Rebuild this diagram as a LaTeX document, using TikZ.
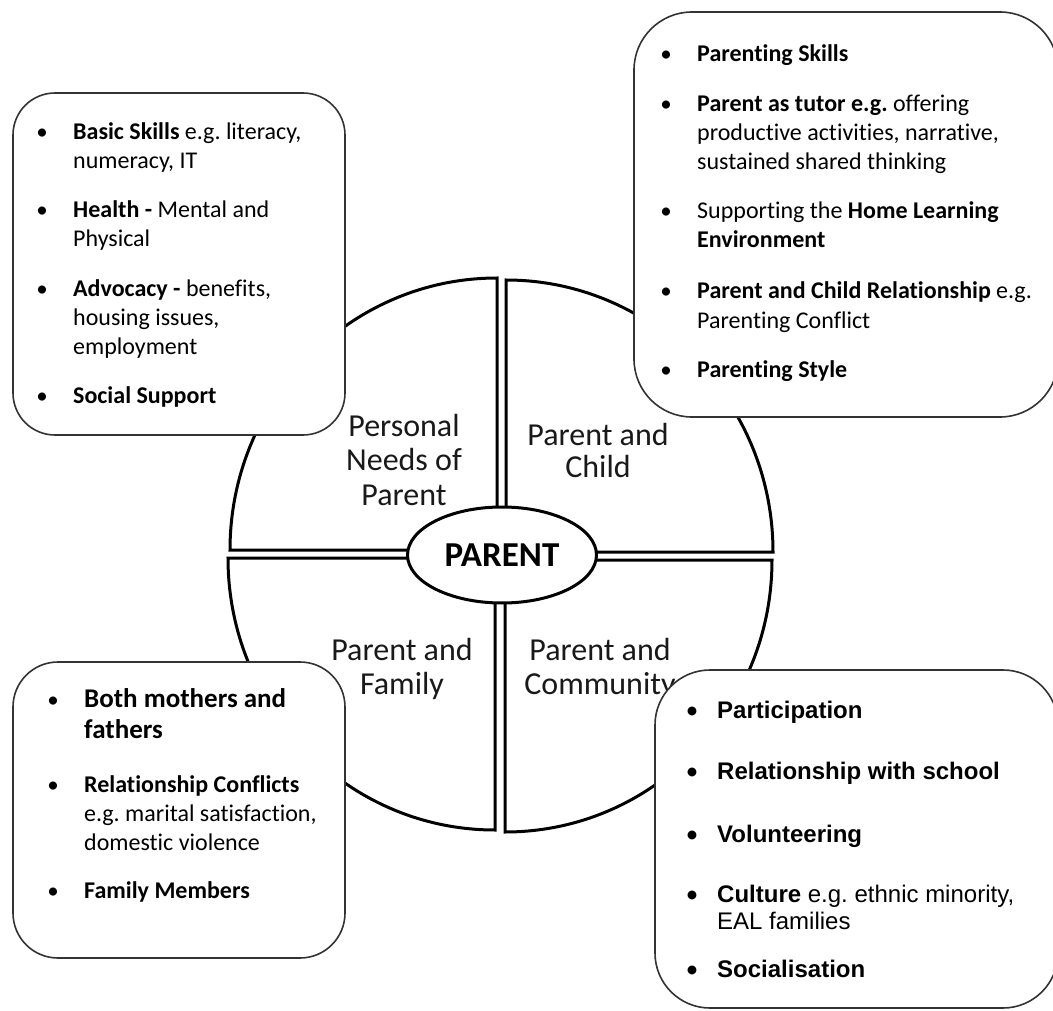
\documentclass[tikz,border=0pt]{standalone}
\usepackage{fontspec}
\setmainfont{Carlito}[Ligatures=NoCommon]
\newfontfamily\arialfont{Liberation Sans}
\usetikzlibrary{shapes.geometric}
\frenchspacing

\begin{document}
\begin{tikzpicture}[x=1pt, y=-1pt,
    sector/.style={draw, line width=3pt, fill=white},
    infobox/.style={draw=black!80, line width=1.6pt, fill=white},
    quad/.style={anchor=base, inner sep=0pt, text=black!90, font=\fontsize{32}{33}\selectfont},
    line/.style={anchor=base west, inner sep=0pt, font=\fontsize{24}{29}\selectfont},
    bul/.style={anchor=base, inner sep=0pt, font=\fontsize{23}{29}\selectfont},
    arialline/.style={line, font=\arialfont\fontsize{24}{29}\selectfont},
    arialbul/.style={bul, font=\fontsize{25}{29}\selectfont},
  ]
  \useasboundingbox (0,0) rectangle (1053,1011);

  % the four quarters of the circle
  \def\rx{267} \def\ry{272}
  \draw[sector] (497,550) -- ++(-\rx,0) arc[start angle=180, end angle=270, x radius=\rx, y radius=\ry] -- cycle;
  \draw[sector] (506,552) -- ++(\rx,0) arc[start angle=0, end angle=-90, x radius=\rx, y radius=\ry] -- cycle;
  \draw[sector] (495,558) -- ++(-\rx,0) arc[start angle=180, end angle=90, x radius=\rx, y radius=\ry] -- cycle;
  \draw[sector] (505,560) -- ++(\rx,0) arc[start angle=0, end angle=90, x radius=\rx, y radius=\ry] -- cycle;

  \node[draw, ellipse, line width=3pt, fill=white, minimum width=189pt, minimum height=96pt, inner sep=0pt,
        font=\fontsize{35}{38}\selectfont\bfseries] (parent) at (502,555) {PARENT};

  % quarter labels
  \foreach \y/\t [count=\i] in {436/Personal, 470/Needs of, 505/Parent}
    \node[quad] (needs\i) at (404,\y) {\t};
  \foreach \y/\t [count=\i] in {445/Parent and, 477/Child}
    \node[quad] (child\i) at (598,\y) {\t};
  \foreach \y/\t [count=\i] in {660/Parent and, 694/Family}
    \node[quad] (family\i) at (402,\y) {\t};
  \foreach \y/\t [count=\i] in {660/Parent and, 694/Community}
    \node[quad] (community\i) at (600,\y) {\t};

  % boxes
  \draw[infobox, rounded corners=42pt] (13,93) rectangle (345,435);
  \draw[infobox, rounded corners=58pt] (634,12) rectangle (1058,417);
  \draw[infobox, rounded corners=45pt] (13,662) rectangle (345,958);
  \draw[infobox, rounded corners=55pt] (655,670) rectangle (1058,1008);

  % personal needs
  \foreach \y in {140,218,297,403}
    \node[bul] at (42,\y) {•};
  \foreach \y/\t [count=\i] in {140/{\textbf{Basic Skills} e.g. literacy,}, 169/{numeracy, IT},
      218/{\textbf{Health -} Mental and}, 247/Physical, 297/{\textbf{Advocacy -} benefits,},
      326/{housing issues,}, 354/employment, 403/\textbf{Social Support}}
    \node[line] (pn\i) at (73,\y) {\t};

  % parent and child
  \foreach \y in {62,112,219,299,377}
    \node[bul] at (666,\y) {•};
  \foreach \y/\t [count=\i] in {62/\textbf{Parenting Skills}, 112/{\textbf{Parent as tutor e.g.} offering},
      141/{productive activities, narrative,}, 170/sustained shared thinking,
      219/{Supporting the \textbf{Home Learning}}, 248/\textbf{Environment},
      299/{\textbf{Parent and Child Relationship} e.g.}, 328/Parenting Conflict, 377/\textbf{Parenting Style}}
    \node[line] (pc\i) at (697,\y) {\t};

  % parent and family
  \foreach \y in {707,792,898}
    \node[bul] at (53,\y) {•};
  \foreach \y/\t [count=\i] in {707/Both mothers and, 738/fathers}
    \node[line, font=\fontsize{27}{31}\selectfont\bfseries] (pf\i) at (84,\y) {\t};
  \foreach \y/\t [count=\i from 3] in {792/\textbf{Relationship Conflicts}, 821/{e.g. marital satisfaction,},
      850/domestic violence, 898/\textbf{Family Members}}
    \node[line] (pf\i) at (84,\y) {\t};

  % parent and community
  \foreach \y in {718,779,842,902,977}
    \node[arialbul] at (692,\y) {•};
  \foreach \y/\t [count=\i] in {718/\textbf{Participation}, 779/\textbf{Relationship with school},
      842/\textbf{Volunteering}, 902/{\textbf{Culture} e.g. ethnic minority,}, 929/EAL families,
      977/\textbf{Socialisation}}
    \node[arialline] (pco\i) at (717,\y) {\t};
\end{tikzpicture}
\end{document}
